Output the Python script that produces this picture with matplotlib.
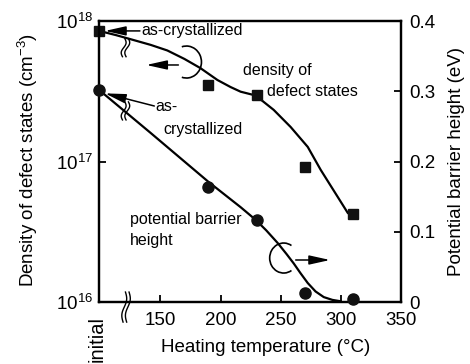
import numpy as np
import matplotlib
matplotlib.use("Agg")
import matplotlib.pyplot as plt
from matplotlib.lines import Line2D
from matplotlib.patches import Arc
from matplotlib.transforms import ScaledTranslation
from matplotlib.ticker import NullLocator

plt.rcParams['font.family'] = ['Liberation Sans', 'DejaVu Sans']
plt.rcParams['mathtext.fontset'] = 'custom'
plt.rcParams['mathtext.rm'] = 'Liberation Sans'
plt.rcParams['mathtext.it'] = 'Liberation Sans:italic'

# measured points (first point = "initial", as-crystallized)
temps = [99, 190, 230, 270, 310]
density = [8.5e17, 3.5e17, 2.95e17, 9.2e16, 4.25e16]        # cm^-3
barrier = [0.302, 0.164, 0.117, 0.013, 0.004]               # eV

# guide-to-the-eye curves
dens_curve_t = [99, 113, 127.5, 142, 155.8, 170, 183.3, 197.5, 208.3, 216.7,
                229.2, 244.2, 258.3, 272.5, 283.3, 297.5, 305.8, 310]
dens_curve_v = [8.51e17, 7.94e17, 7.33e17, 6.76e17, 6.17e17, 5.37e17, 4.62e17,
                3.80e17, 3.39e17, 3.14e17, 2.95e17, 2.33e17, 1.76e17, 1.27e17,
                8.71e16, 5.58e16, 4.30e16, 4.07e16]
barr_curve_t = [99, 141.7, 190, 216.7, 229.2, 238, 247.5, 255, 260.8, 266.5,
                272.5, 279, 285.8, 293, 300]
barr_curve_v = [0.302, 0.241, 0.171, 0.135, 0.117, 0.102, 0.084, 0.068, 0.055,
                0.041, 0.027, 0.015, 0.007, 0.003, 0.001]

xticks = [150, 200, 250, 300, 350]
left_ticks = [1e16, 1e17, 1e18]
left_labels = ['$10^{16}$', '$10^{17}$', '$10^{18}$']
right_ticks = [0, 0.1, 0.2, 0.3, 0.4]
right_labels = ['0', '0.1', '0.2', '0.3', '0.4']

fig = plt.figure(figsize=(4.7, 3.64), dpi=100)
ax = fig.add_axes([0.2106, 0.1703, 0.6426, 0.772])
ax2 = ax.twinx()

lw_ax = 1.6
for a in (ax, ax2):
    for s in a.spines.values():
        s.set_linewidth(lw_ax)

ax.set_yscale('log')
ax.set_xlim(99, 350)
ax.set_ylim(1e16, 1e18)
ax2.set_ylim(0, 0.4)

ax.plot(dens_curve_t, dens_curve_v, color='k', lw=1.6, solid_capstyle='round')
ax.plot(temps, density, 's', color='#111111', ms=7.5, clip_on=False, zorder=5)
ax2.plot(barr_curve_t, barr_curve_v, color='k', lw=1.6, solid_capstyle='round')
ax2.plot(temps, barrier, 'o', color='#111111', ms=8, clip_on=False, zorder=5)

ax.set_xticks(xticks)
ax.set_xticklabels([str(t) for t in xticks])
ax.set_yticks(left_ticks)
ax.set_yticklabels(left_labels)
ax.yaxis.set_minor_locator(NullLocator())
ax2.set_yticks(right_ticks)
ax2.set_yticklabels(right_labels)

ax.tick_params(axis='x', direction='in', length=5, width=1.3, labelsize=13.5, pad=7)
ax.tick_params(axis='y', direction='in', length=5, width=1.3, labelsize=13.5, pad=4)
ax2.tick_params(axis='y', direction='in', length=5, width=1.3, labelsize=13.5, pad=6)

fig.text(0.566, 0.046, 'Heating temperature (\u00b0C)', ha='center', va='center', fontsize=13.5)
fig.text(0.06, 0.56, 'Density of defect states (cm$^{-3}$)', rotation=90,
         ha='center', va='center', fontsize=13.5)
fig.text(0.972, 0.555, 'Potential barrier height (eV)', rotation=90,
         ha='center', va='center', fontsize=13.5)
fig.text(97.5 / 470, 2 / 364, 'initial', rotation=90, ha='center', va='bottom',
         fontsize=14.5)

# annotations
arr = dict(arrowstyle='-|>,head_length=0.9,head_width=0.2', color='k', lw=1.1,
           mutation_scale=14, shrinkA=0, shrinkB=0)
fs = 11.5
ax.annotate('', xy=(104, 8.5e17), xytext=(133, 8.5e17), arrowprops=arr)
ax.text(134.5, 8.5e17, 'as-crystallized', ha='left', va='center', fontsize=fs)
ax2.annotate('', xy=(104, 0.297), xytext=(145, 0.279), arrowprops=arr)
ax2.text(145.5, 0.279, 'as-', ha='left', va='center', fontsize=fs)
ax2.text(152.8, 0.246, 'crystallized', ha='left', va='center', fontsize=fs)
ax.text(219, 10**17.65, 'density of', ha='left', va='center', fontsize=fs)
ax.text(238.3, 10**17.495, 'defect states', ha='left', va='center', fontsize=fs)
ax2.text(125, 0.117, 'potential barrier', ha='left', va='center', fontsize=fs)
ax2.text(125, 0.087, 'height', ha='left', va='center', fontsize=fs)
ax.annotate('', xy=(138.3, 10**17.687), xytext=(165, 10**17.687), arrowprops=arr)
ax2.annotate('', xy=(291, 0.0598), xytext=(262.5, 0.0598), arrowprops=arr)


def at(a, x, y):
    return fig.dpi_scale_trans + ScaledTranslation(x, y, a.transData)


def squiggle(a, x, y, h=9):
    t = np.linspace(-1, 1, 40)
    for dx in (-1.8, 1.8):
        xs = (dx + 1.8 * np.sin(np.pi * t) + 1.2 * t) / 100
        ys = h * t / 100
        fig.add_artist(Line2D(xs, ys, color='k', lw=1.0, transform=at(a, x, y)))


squiggle(ax, 121, 10**17.81)
squiggle(ax2, 121, 0.272)
squiggle(ax, 121.5, 10**15.964, h=15)

# loop markers around the curves
fig.add_artist(Arc((0, 0), 0.30, 0.32, theta1=-107, theta2=107, color='k', lw=1.2,
                   transform=at(ax, 171.7, 10**17.708)))
fig.add_artist(Arc((0, 0), 0.28, 0.30, theta1=58, theta2=302, color='k', lw=1.2,
                   transform=at(ax2, 252.5, 0.0626)))

fig.savefig('out.png', dpi=100)
